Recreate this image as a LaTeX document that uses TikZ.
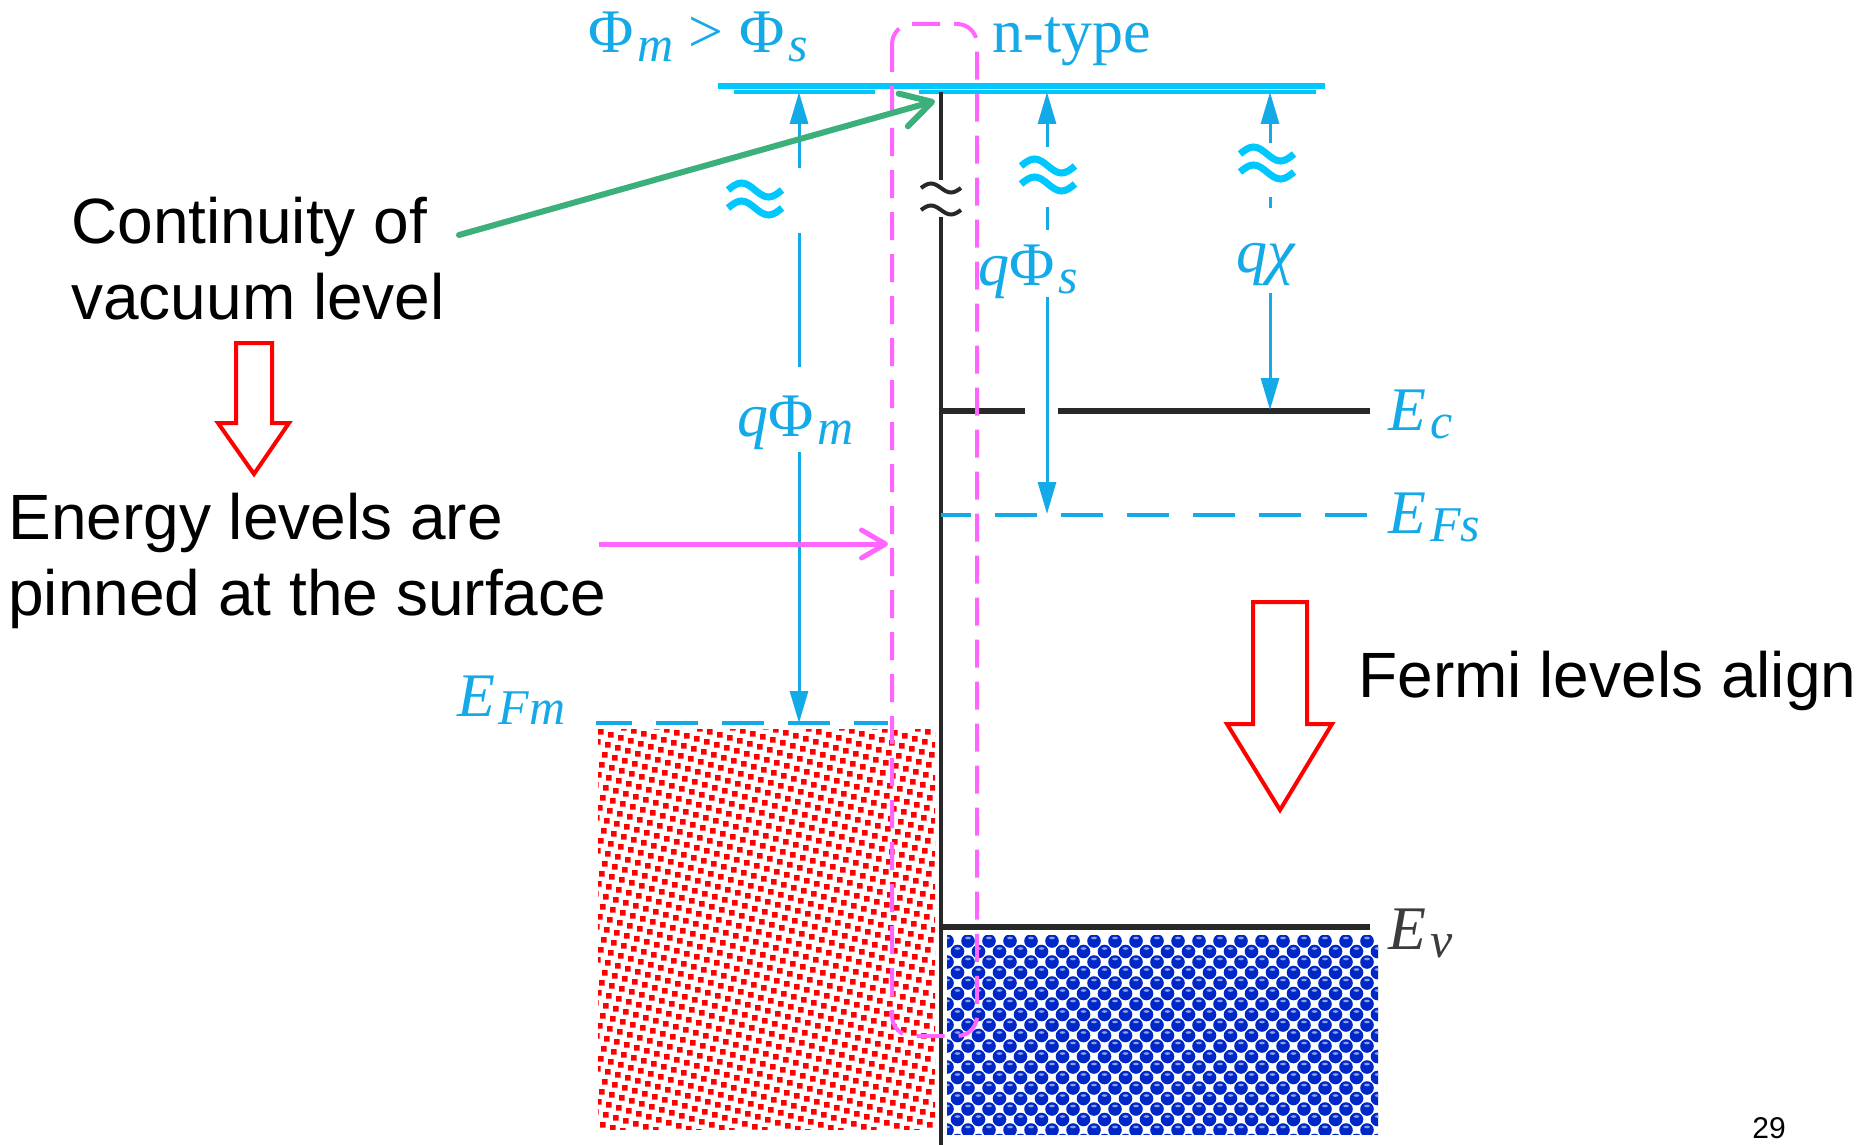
\documentclass[tikz,border=0pt]{standalone}
\usepackage{fontspec}
\setmainfont{Liberation Serif}
\newfontfamily\arialf{Liberation Sans}
\usetikzlibrary{arrows.meta}
\definecolor{cy}{RGB}{20,170,232}
\definecolor{vac}{RGB}{0,200,255}
\definecolor{mag}{RGB}{255,102,255}
\definecolor{grn}{RGB}{60,176,122}
\definecolor{bl}{RGB}{0,40,200}
\definecolor{blk}{RGB}{40,40,40}
\definecolor{evc}{RGB}{60,60,60}
\newcommand{\lblf}{\fontsize{31}{31}\selectfont}
\newcommand{\sbx}[1]{\kern0.06em\raisebox{-0.14em}{\fontsize{25}{25}\selectfont\itshape #1}}
\newcommand{\annf}{\arialf\fontsize{32}{38}\selectfont}
\tikzset{
  cyl/.style={text=cy, font=\lblf, inner sep=0pt},
  ann/.style={text=black, font=\annf, inner sep=0pt, anchor=base west},
  cyarrow/.style={draw=cy, line width=1.5pt, -{Triangle[length=16pt,width=9pt]}},
  cyline/.style={draw=cy, line width=1.5pt},
  level/.style={draw=blk, line width=3pt},
  fermi/.style={draw=cy, line width=2pt, dash pattern=on 21pt off 12pt},
  redarrow/.style={draw=red, line width=2pt, fill=white, line join=miter},
  apx/.pic={
    \draw[pic actions] (-27,-9) sin (-13.5,-16) cos (0,-9) sin (13.5,-2) cos (27,-9);
    \draw[pic actions] (-27,9) sin (-13.5,2) cos (0,9) sin (13.5,16) cos (27,9);
  },
  bapx/.pic={
    \draw[pic actions] (-20,-11) sin (-10,-15.5) cos (0,-11) sin (10,-6.5) cos (20,-11);
    \draw[pic actions] (-20,11) sin (-10,6.5) cos (0,11) sin (10,15.5) cos (20,11);
  }
}
\begin{document}
\begin{tikzpicture}[x=0.5pt,y=-0.5pt]
\useasboundingbox (0,0) rectangle (1868,1145);
\fill[white] (0,0) rectangle (1868,1145);

% ---- patterns ----
\begin{scope}
\clip (598,729) rectangle (935,1129);
\fill[red] \foreach \j in {-11,...,38} { \foreach \i in {-1,...,43} { ({598+10*\i-3*\j},{729+3*\i+10*\j}) rectangle ++(5.6,5.6) } };
\end{scope}
\begin{scope}
\clip (947,935) rectangle (1378,1134);
\fill[bl] \foreach \j in {0,...,19} { \foreach \i in {0,...,21} { ({947+\i*21+mod(\j,2)*10.5},{941+\j*10.5}) circle[radius=6.8] } };
\fill[white!55!bl] \foreach \j in {0,...,19} { \foreach \i in {0,...,21} { ({947+\i*21+mod(\j,2)*10.5},{938+\j*10.5}) ellipse[x radius=2.8, y radius=1.3] } };
\end{scope}

% ---- vacuum level ----
\coordinate (vacL) at (718,86);
\coordinate (vacR) at (1325,86);
\draw[vac, line width=3pt] (vacL) -- (vacR);
\draw[vac!85!cy, line width=2pt] (734,92) -- (875,92);
\draw[vac!85!cy, line width=2pt] (919,92) -- (1316,92);

% ---- interface line ----
\coordinate (ifT) at (941,92);
\coordinate (ifB) at (941,1145);
\draw[blk, line width=1.8pt] (ifT) -- (941,180);
\draw[blk, line width=1.8pt] (941,217) -- (ifB);
\pic[draw=blk, line width=2pt] at (941,199) {bapx};

% ---- levels ----
\draw[level] (941,411) -- (1025,411);
\draw[level] (1058,411) -- (1370,411);
\draw[level] (941,927) -- (1370,927);
\draw[fermi, dash phase=6pt] (941,515) -- (1370,515);
\draw[fermi, dash phase=3pt] (596,723) -- (888,723);

% ---- q Phi_m ----
\draw[cyarrow] (799,168) -- (799,92);
\draw[cyline] (799,233) -- (799,367);
\draw[cyarrow] (799,452) -- (799,723);
\pic[draw=vac, line width=3.5pt] at (755,199) {apx};
\node[cyl, anchor=base] (qpm) at (796,436) {\textit{q}Φ\sbx{m}};

% ---- q Phi_s ----
\draw[cyarrow] (1047,147) -- (1047,92);
\draw[cyline] (1047,207) -- (1047,230);
\draw[cyarrow] (1047,297) -- (1047,514);
\pic[draw=vac, line width=3.5pt] at (1048,175) {apx};
\node[cyl, anchor=base] (qps) at (1028,285) {\textit{q}Φ\sbx{s}};

% ---- q chi ----
\draw[cyarrow] (1270,143) -- (1270,92);
\draw[cyline] (1270,197) -- (1270,208);
\draw[cyarrow] (1270,293) -- (1270,410);
\pic[draw=vac, line width=3.5pt] at (1267,163) {apx};
\node[cyl, anchor=base] (qchi) at (1266,272) {\textit{qχ}};

% ---- labels ----
\node[cyl, anchor=base] (title) at (698,53) {Φ\sbx{m} > Φ\sbx{s}};
\node[cyl, anchor=base west] (ntype) at (992,53) {n-type};
\node[cyl, anchor=base west] (Ec) at (1388,430) {\textit{E}\sbx{c}};
\node[cyl, anchor=base west] (EFs) at (1388,533) {\textit{E}\sbx{Fs}};
\node[cyl, text=evc, anchor=base west] (Ev) at (1388,949) {\textit{E}\sbx{v}};
\node[cyl, anchor=base east] (EFm) at (566,716) {\textit{E}\sbx{Fm}};

% ---- magenta dashed box ----
\draw[mag, line width=2pt, dash pattern=on 14pt off 7pt, rounded corners=10pt] (892,24) rectangle (977,1036);

% ---- annotations ----
\node[ann] (cont1) at (71,243) {Continuity of};
\node[ann] (cont2) at (71,319) {vacuum level};
\node[ann] (pin1) at (8,539) {Energy levels are};
\node[ann] (pin2) at (8,615) {pinned at the surface};
\node[ann] (fermi) at (1358,697) {Fermi levels align};
\node[text=black, font=\arialf\fontsize{15}{15}\selectfont, inner sep=0pt, anchor=base west] (pnum) at (1752,1138) {29};

\coordinate (gS) at (459,235);
\coordinate (gE) at (935,101);
\draw[grn, line width=3pt, line cap=round, -{Straight Barb[length=15pt,width=17pt,round]}] (gS) -- (gE);
\coordinate (mS) at (599,544);
\coordinate (mE) at (888,544);
\draw[mag, line width=2.5pt, -{Straight Barb[length=12pt,width=14pt,round]}] (mS) -- (mE);

\draw[redarrow] (236,343) -- (272,343) -- (272,423) -- (289,423) -- (254,474) -- (218,423) -- (236,423) -- cycle;
\draw[redarrow] (1253,602) -- (1307,602) -- (1307,724) -- (1332,724) -- (1280,810) -- (1227,724) -- (1253,724) -- cycle;
\end{tikzpicture}
\end{document}
